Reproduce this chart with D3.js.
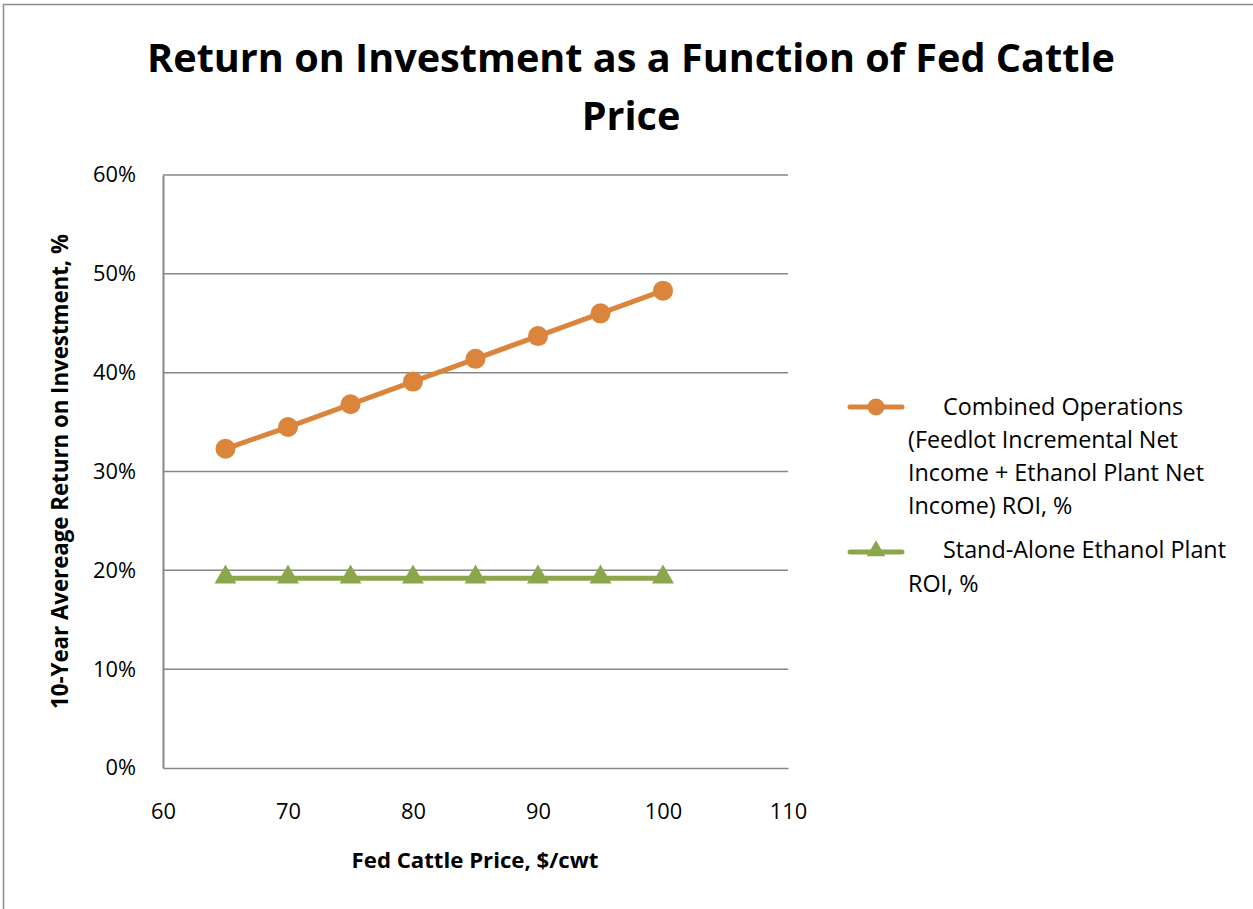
<!DOCTYPE html>
<html>
<head>
<meta charset="utf-8">
<script src="https://cdn.jsdelivr.net/npm/d3@7"></script>
<style>
  html, body { margin: 0; padding: 0; background: #fff; }
  text { font-family: "Open Sans", "Noto Sans", sans-serif; fill: #000; }
</style>
</head>
<body>
<svg id="chart" width="1253" height="909"></svg>
<script>
// Fed cattle price ($/cwt) and 10-year average ROI (%)
const prices = [65, 70, 75, 80, 85, 90, 95, 100];
const combinedROI = [32.3, 34.5, 36.8, 39.1, 41.4, 43.7, 46.0, 48.3];
const standAloneROI = [19.2, 19.2, 19.2, 19.2, 19.2, 19.2, 19.2, 19.2];
const xTicks = [60, 70, 80, 90, 100, 110];
const yTicks = [0, 10, 20, 30, 40, 50, 60];

const titleLines = ["Return on Investment as a Function of Fed Cattle", "Price"];
const xTitle = "Fed Cattle Price, $/cwt";
const yTitle = "10-Year Avereage Return on Investment, %";
const legendCombined = ["Combined Operations", "(Feedlot Incremental Net", "Income + Ethanol Plant Net", "Income) ROI, %"];
const legendStandAlone = ["Stand-Alone Ethanol Plant", "ROI, %"];

const ORANGE = "#DA843C";
const GREEN = "#8CA74B";
const GRID = "#878787";

const svg = d3.select("#chart");
const plot = { left: 163, right: 788, top: 175, bottom: 768 };

const x = d3.scaleLinear().domain([60, 110]).range([plot.left, plot.right]);
const y = d3.scaleLinear().domain([0, 60]).range([plot.bottom, plot.top]);

// resize a text element so it spans the given width
function fit(sel, width) {
  const node = sel.node();
  const fs = parseFloat(sel.attr("font-size"));
  const w = node.getComputedTextLength();
  sel.attr("font-size", (fs * width / w).toFixed(2));
  return sel;
}

// chart frame
svg.append("rect")
  .attr("x", 3.5).attr("y", 4.5)
  .attr("width", 1260).attr("height", 920)
  .attr("fill", "none").attr("stroke", "#8a8a8a").attr("stroke-width", 1.5);

// title
const t1 = svg.append("text").attr("x", 631).attr("y", 72)
  .attr("text-anchor", "middle").attr("font-weight", "bold").attr("font-size", 40)
  .text(titleLines[0]);
fit(t1, 968);
const titleSize = t1.attr("font-size");
svg.append("text").attr("x", 631).attr("y", 130)
  .attr("text-anchor", "middle").attr("font-weight", "bold").attr("font-size", titleSize)
  .text(titleLines[1]);

// horizontal gridlines
svg.append("g")
  .selectAll("line")
  .data(yTicks.filter(d => d > 0))
  .join("line")
  .attr("x1", plot.left).attr("x2", plot.right)
  .attr("y1", d => y(d)).attr("y2", d => y(d))
  .attr("stroke", GRID).attr("stroke-width", 1.5);

// tick label size: "60%" spans about 43px
const tprobe = svg.append("text").attr("font-size", 20).text("60%");
fit(tprobe, 43);
const tickSize = tprobe.attr("font-size");
tprobe.remove();

// y axis
const yAxis = svg.append("g")
  .attr("transform", `translate(${plot.left},0)`)
  .call(d3.axisLeft(y).tickValues(yTicks).tickFormat(d => d + "%").tickSize(0).tickPadding(27));
yAxis.select(".domain").attr("stroke", GRID).attr("stroke-width", 2);
yAxis.selectAll("text").attr("font-size", tickSize).attr("font-family", null).attr("fill", "#000");

// x axis
const xAxis = svg.append("g")
  .attr("transform", `translate(0,${plot.bottom})`)
  .call(d3.axisBottom(x).tickValues(xTicks).tickSize(0));
xAxis.select(".domain").attr("stroke", GRID).attr("stroke-width", 1.5);
xAxis.selectAll("text").attr("font-size", tickSize).attr("font-family", null).attr("fill", "#000")
  .attr("y", 51).attr("dy", null);

// axis titles
const xt = svg.append("text").attr("x", 475).attr("y", 868)
  .attr("text-anchor", "middle").attr("font-weight", "bold").attr("font-size", 19)
  .text(xTitle);
fit(xt, 247);
const yt = svg.append("text")
  .attr("transform", `translate(68,${(plot.top + plot.bottom) / 2}) rotate(-90)`)
  .attr("text-anchor", "middle").attr("font-weight", "bold").attr("font-size", 19)
  .text(yTitle);
fit(yt, 475);

// series
const data = prices.map((p, i) => ({ p, c: combinedROI[i], s: standAloneROI[i] }));
const line = key => d3.line().x(d => x(d.p)).y(d => y(d[key]));

svg.append("path").datum(data)
  .attr("d", line("s")).attr("fill", "none")
  .attr("stroke", GREEN).attr("stroke-width", 5);
const tri = d3.symbol().type(d3.symbolTriangle).size(210);
svg.append("g").selectAll("path")
  .data(data).join("path")
  .attr("d", tri)
  .attr("transform", d => `translate(${x(d.p)},${y(d.s) - 1})`)
  .attr("fill", GREEN);

svg.append("path").datum(data)
  .attr("d", line("c")).attr("fill", "none")
  .attr("stroke", ORANGE).attr("stroke-width", 5);
svg.append("g").selectAll("circle")
  .data(data).join("circle")
  .attr("cx", d => x(d.p)).attr("cy", d => y(d.c))
  .attr("r", 10).attr("fill", ORANGE);

// legend
const lg = svg.append("g");
lg.append("line").attr("x1", 850).attr("x2", 902).attr("y1", 407).attr("y2", 407)
  .attr("stroke", ORANGE).attr("stroke-width", 5).attr("stroke-linecap", "round");
lg.append("circle").attr("cx", 876).attr("cy", 407).attr("r", 8.5).attr("fill", ORANGE);
lg.append("line").attr("x1", 850).attr("x2", 902).attr("y1", 552).attr("y2", 552)
  .attr("stroke", GREEN).attr("stroke-width", 5).attr("stroke-linecap", "round");
lg.append("path").attr("d", d3.symbol().type(d3.symbolTriangle).size(150))
  .attr("transform", "translate(876,551)").attr("fill", GREEN);

const probe = lg.append("text").attr("x", 943).attr("y", 558)
  .attr("font-size", 20).text(legendStandAlone[0]);
fit(probe, 283);
const ls = probe.attr("font-size");

legendCombined.forEach((s, i) => {
  lg.append("text")
    .attr("x", i === 0 ? 943 : 908)
    .attr("y", 415 + i * 33)
    .attr("font-size", ls)
    .text(s);
});
lg.append("text").attr("x", 908).attr("y", 592).attr("font-size", ls).text(legendStandAlone[1]);
</script>
</body>
</html>
